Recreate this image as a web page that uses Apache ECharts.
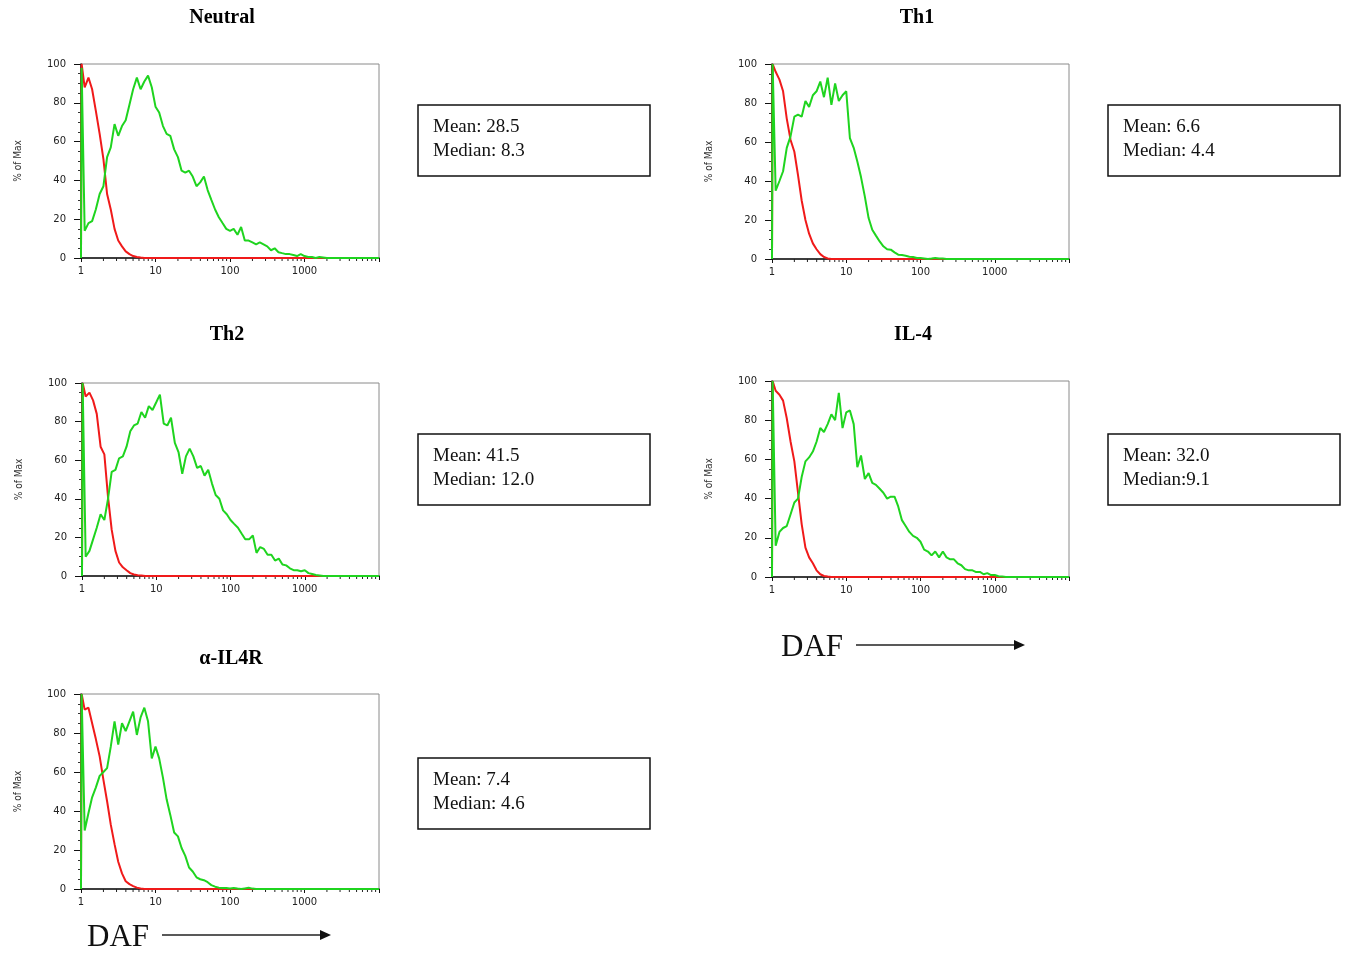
<!DOCTYPE html>
<html>
<head>
<meta charset="utf-8">
<script src="https://cdn.jsdelivr.net/npm/echarts@6/dist/echarts.min.js"></script>
<style>
html, body { margin: 0; background: #fff; }
#chart { width: 1346px; height: 955px; }
</style>
</head>
<body>
<div id="chart"></div>
<script>
// channel positions (log scale, ~20 per decade)
var channels = [1, 1.02, 1.12, 1.26, 1.41, 1.58, 1.78, 2.0, 2.24, 2.51, 2.82, 3.16, 3.55, 3.98, 4.47, 5.01, 5.62, 6.31, 7.08, 7.94, 8.91,
	10, 11.2, 12.6, 14.1, 15.8, 17.8, 20, 22.4, 25.1, 28.2, 31.6, 35.5, 39.8, 44.7, 50.1, 56.2, 63.1, 70.8, 79.4, 89.1,
	100, 112, 126, 141, 158, 178, 200, 224, 251, 282, 316, 355, 398, 447, 501, 562, 631, 708, 794, 891,
	1000, 1122, 1259, 1413, 1585, 1778, 1995, 2239, 2512, 2818, 3162, 3548, 3981, 4467, 5012, 5623, 6310, 7079, 7943, 8913, 10000];
var axisEnd = 10000;
var xTickLabels = [1, 10, 100, 1000];
var minorTicks = [2, 3, 4, 5, 6, 7, 8, 9, 20, 30, 40, 50, 60, 70, 80, 90, 200, 300, 400, 500, 600, 700, 800, 900,
	2000, 3000, 4000, 5000, 6000, 7000, 8000, 9000];

var titles = ['Neutral', 'Th1', 'Th2', 'IL-4', '\u03b1-IL4R'];
var means = ['Mean: 28.5', 'Mean: 6.6', 'Mean: 41.5', 'Mean: 32.0', 'Mean: 7.4'];
var medians = ['Median: 8.3', 'Median: 4.4', 'Median: 12.0', 'Median:9.1', 'Median: 4.6'];

// % of max
var neutralRed = [0, 100, 88, 93, 87, 76, 64, 51, 33, 25, 15, 9, 6, 3.4, 2, 1, 0.5, 0.2, 0];
var neutralGreen = [0, 98, 14, 18, 19, 25, 33, 37, 52, 57, 69, 63, 68, 71, 79, 87, 93, 87, 91, 94, 88, 78, 75, 68, 64, 63,
	56, 52, 45, 44, 45, 42, 37, 39, 42, 35, 30, 25, 21, 18, 15, 14, 15, 12, 16, 9, 9, 8, 7, 8, 7, 6, 4, 5, 3, 2.5, 2, 2,
	1.5, 1, 2, 1, 0.5, 0.5, 0, 0.5, 0.3, 0];
var th1Red = [0, 100, 96, 92, 86, 72, 61, 55, 43, 30, 20, 13, 8, 5, 2.5, 1, 0.3, 0];
var th1Green = [0, 100, 35, 40, 45, 57, 63, 73, 74, 73, 81, 78, 84, 86, 91, 83, 93, 79, 90, 81, 84, 86, 62, 57, 50, 42,
	32, 21, 15, 12, 9, 6.5, 5, 4.8, 3.4, 2.2, 2, 1.7, 1.2, 1, 0.5, 0.5, 0.3, 0, 0.2, 0.5, 0.3, 0.2, 0];
var th2Red = [0, 100, 93, 95, 91, 84, 67, 63, 41, 24, 13, 7, 4.5, 3, 1.5, 0.8, 0.4, 0.2, 0];
var th2Green = [0, 100, 10, 13, 19, 25, 32, 29, 40, 54, 55, 61, 62, 67, 75, 78, 79, 85, 82, 88, 86, 90, 94, 79, 78, 82,
	69, 64, 53, 62, 66, 62, 56, 57, 52, 55, 48, 42, 40, 34, 32, 29, 27, 25, 22, 19, 19, 21, 12, 15, 14, 11, 11, 8, 9, 6,
	5.5, 4, 3, 3, 2.5, 3, 1.5, 1, 0.5, 0.3, 0];
var il4Red = [0, 100, 95, 93, 90, 81, 69, 59, 43, 27, 15, 10, 7, 3.4, 1.4, 0.5, 0.2, 0];
var il4Green = [0, 100, 16, 23, 25, 26, 32, 38, 40, 51, 59, 61, 64, 69, 76, 74, 78, 83, 80, 94, 76, 84, 85, 78, 56, 62,
	50, 53, 48, 47, 45, 43, 40, 41, 41, 36, 29, 26, 23, 21, 20, 18, 14, 13, 11, 13, 10, 13, 10, 9, 9, 7, 6, 4, 3.4, 3.4,
	2.5, 2.6, 1.4, 2, 1, 1, 0.4, 0.2, 0];
var il4rRed = [0, 100, 92, 93, 85, 77, 68, 56, 45, 33, 23, 14, 8, 4, 2.5, 1.5, 0.7, 0.3, 0];
var il4rGreen = [0, 100, 30, 39, 47, 52, 58, 60, 62, 73, 86, 74, 85, 81, 86, 91, 79, 88, 93, 86, 67, 73, 67, 57, 46, 38,
	29, 27, 21, 17, 11, 9, 6, 5, 4.5, 3.5, 2, 1.2, 0.7, 0.5, 0.5, 0.3, 0.5, 0.2, 0, 0.3, 0.6, 0.2, 0];

var redSets = [neutralRed, th1Red, th2Red, il4Red, il4rRed];
var greenSets = [neutralGreen, th1Green, th2Green, il4Green, il4rGreen];

// layout of each panel: plot box, title centre, stats box
var panels = [
	{ left: 81, top: 64, width: 298, height: 194, tx: 222, ty: 18, bx: 418, by: 105 },
	{ left: 772, top: 64, width: 297, height: 195, tx: 917, ty: 18, bx: 1108, by: 105 },
	{ left: 82, top: 383, width: 297, height: 193, tx: 227, ty: 335, bx: 418, by: 434 },
	{ left: 772, top: 381, width: 297, height: 196, tx: 913, ty: 335, bx: 1108, by: 434 },
	{ left: 81, top: 694, width: 298, height: 195, tx: 231, ty: 659, bx: 418, by: 758 }
];

var RED = '#f01a1a';
var GREEN = '#1fd41f';
var labelFont = 'DejaVu Sans';

function toPairs(vals) {
	var out = vals.map(function(v, i) { return [channels[i], v]; });
	out.push([axisEnd, 0]);
	return out;
}

var grids = [], xAxes = [], yAxes = [], series = [], graphics = [];

panels.forEach(function(p, i) {
	grids.push({
		left: p.left, top: p.top, width: p.width, height: p.height,
		show: true, borderColor: '#8a8a8a', borderWidth: 1, backgroundColor: 'transparent'
	});
	xAxes.push({
		gridIndex: i, type: 'log', logBase: 10, min: 1, max: axisEnd,
		axisLine: { show: true, onZero: false, lineStyle: { color: '#111', width: 1.5 } },
		axisTick: { show: true, length: 4, lineStyle: { color: '#111' } },
		splitLine: { show: false },
		axisLabel: {
			margin: 8, fontSize: 10, color: '#222', fontFamily: labelFont,
			formatter: function(v) {
				var r = Math.round(v);
				return xTickLabels.indexOf(r) >= 0 ? String(r) : '';
			}
		}
	});
	yAxes.push({
		gridIndex: i, type: 'value', min: 0, max: 100, interval: 20,
		name: '% of Max', nameLocation: 'middle', nameRotate: 90, nameGap: 58,
		nameTextStyle: { fontSize: 10, color: '#333', fontFamily: 'Liberation Sans Narrow, DejaVu Sans Condensed, sans-serif' },
		axisLine: { show: true, lineStyle: { color: '#111', width: 1.5 } },
		axisTick: { show: true, length: 7, lineStyle: { color: '#111' } },
		minorTick: { show: true, splitNumber: 4, length: 3, lineStyle: { color: '#333' } },
		splitLine: { show: false },
		axisLabel: { margin: 15, fontSize: 10, color: '#222', fontFamily: labelFont }
	});

	// log minor ticks below the x axis
	series.push({
		type: 'custom', xAxisIndex: i, yAxisIndex: i, silent: true, clip: false,
		data: minorTicks.map(function(v) { return [v, 0]; }),
		renderItem: function(params, api) {
			var pt = api.coord([api.value(0), 0]);
			return {
				type: 'line',
				shape: { x1: pt[0], y1: pt[1], x2: pt[0], y2: pt[1] + 3 },
				style: { stroke: '#222', lineWidth: 1 }
			};
		}
	});
	series.push({
		type: 'line', xAxisIndex: i, yAxisIndex: i, data: toPairs(redSets[i]),
		showSymbol: false, lineStyle: { color: RED, width: 2 }, animation: false
	});
	series.push({
		type: 'line', xAxisIndex: i, yAxisIndex: i, data: toPairs(greenSets[i]),
		showSymbol: false, lineStyle: { color: GREEN, width: 2 }, animation: false
	});

	graphics.push({
		type: 'text', x: p.tx, y: p.ty,
		style: { text: titles[i], font: 'bold 20px "Liberation Serif"', fill: '#000', align: 'center', verticalAlign: 'middle' }
	});
	graphics.push({
		type: 'rect', shape: { x: p.bx, y: p.by, width: 232, height: 71 },
		style: { fill: '#fff', stroke: '#111', lineWidth: 1.5 }
	});
	graphics.push({
		type: 'text', x: p.bx + 15, y: p.by + 22,
		style: { text: means[i], font: '19px "Liberation Serif"', fill: '#111', verticalAlign: 'middle' }
	});
	graphics.push({
		type: 'text', x: p.bx + 15, y: p.by + 46,
		style: { text: medians[i], font: '19px "Liberation Serif"', fill: '#111', verticalAlign: 'middle' }
	});
});

// DAF labels with arrows
[{ x: 87, y: 938, x1: 162, x2: 331 }, { x: 781, y: 648, x1: 856, x2: 1025 }].forEach(function(d) {
	graphics.push({
		type: 'text', x: d.x, y: d.y,
		style: { text: 'DAF', font: '31px "Liberation Serif"', fill: '#111', verticalAlign: 'middle' }
	});
	graphics.push({
		type: 'line', shape: { x1: d.x1, y1: d.y - 3, x2: d.x2 - 10, y2: d.y - 3 },
		style: { stroke: '#222', lineWidth: 1.5 }
	});
	graphics.push({
		type: 'polygon', shape: { points: [[d.x2 - 11, d.y - 8], [d.x2, d.y - 3], [d.x2 - 11, d.y + 2]] },
		style: { fill: '#111' }
	});
});

var chart = echarts.init(document.getElementById('chart'));
chart.setOption({
	animation: false,
	backgroundColor: '#fff',
	grid: grids,
	xAxis: xAxes,
	yAxis: yAxes,
	series: series,
	graphic: graphics
});
</script>
</body>
</html>
